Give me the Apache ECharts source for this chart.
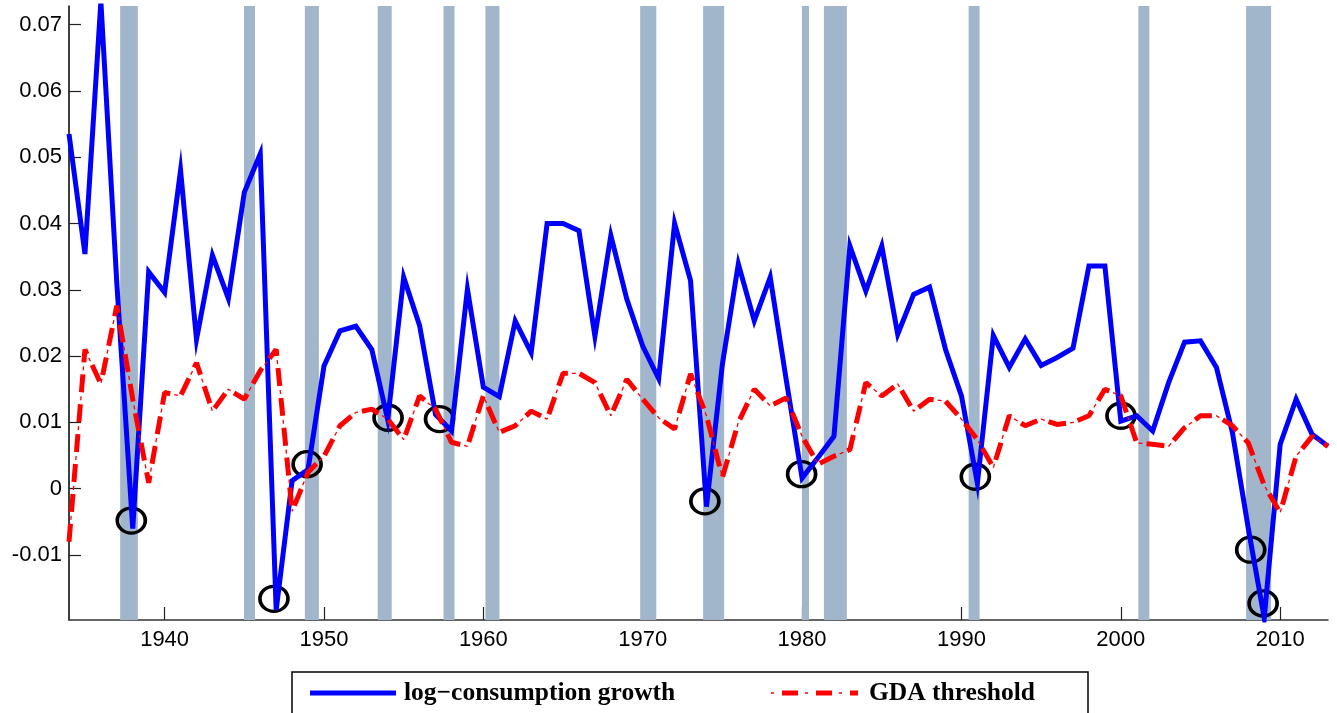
<!DOCTYPE html>
<html>
<head>
<meta charset="utf-8">
<script src="https://cdn.jsdelivr.net/npm/echarts@6/dist/echarts.min.js"></script>
<style>
  html, body { margin: 0; background: #fff; }
  #chart { width: 1337px; height: 713px; }
</style>
</head>
<body>
<div id="chart"></div>
<script>
// annual data, 1934 .. 2013
const firstYear = 1934;

const consumption = [
  0.0535, 0.0354, 0.0735, 0.0310, -0.0060, 0.0327, 0.0296, 0.0480, 0.0225, 0.0352,
  0.0287, 0.0447, 0.0505, -0.0183, 0.0012, 0.0029, 0.0185, 0.0238, 0.0245, 0.0210,
  0.0104, 0.0319, 0.0246, 0.0112, 0.0087, 0.0301, 0.0153, 0.0139, 0.0253, 0.0205,
  0.0400, 0.0400, 0.0389, 0.0230, 0.0382, 0.0286, 0.0215, 0.0166, 0.0400, 0.0314,
  -0.0027, 0.0188, 0.0339, 0.0253, 0.0319, 0.0165, 0.0016, 0.0047, 0.0079, 0.0366,
  0.0298, 0.0366, 0.0233, 0.0293, 0.0304, 0.0210, 0.0140, 0.0008, 0.0231, 0.0183,
  0.0226, 0.0186, 0.0198, 0.0212, 0.0336, 0.0336, 0.0102, 0.0110, 0.0087, 0.0160,
  0.0221, 0.0223, 0.0183, 0.0085, -0.0060, -0.0195, 0.0067, 0.0135, 0.0082, 0.0064
];

const threshold = [
  -0.0080, 0.0210, 0.0158, 0.0276, 0.0135, 0.0009, 0.0145, 0.0140, 0.0190, 0.0117,
  0.0150, 0.0135, 0.0178, 0.0210, -0.0034, 0.0025, 0.0049, 0.0095, 0.0115, 0.0120,
  0.0105, 0.0074, 0.0140, 0.0120, 0.0070, 0.0064, 0.0140, 0.0085, 0.0095, 0.0117,
  0.0105, 0.0174, 0.0174, 0.0160, 0.0110, 0.0165, 0.0135, 0.0107, 0.0090, 0.0173,
  0.0110, 0.0017, 0.0100, 0.0150, 0.0125, 0.0137, 0.0079, 0.0037, 0.0049, 0.0059,
  0.0160, 0.0140, 0.0158, 0.0117, 0.0135, 0.0132, 0.0105, 0.0074, 0.0032, 0.0110,
  0.0095, 0.0105, 0.0097, 0.0100, 0.0110, 0.0150, 0.0140, 0.0069, 0.0067, 0.0064,
  0.0092, 0.0110, 0.0110, 0.0095, 0.0069, 0.0005, -0.0036, 0.0049, 0.0079, 0.0064
];

// detected troughs (circled)
const troughs = [
  [1937.91, -0.0048], [1946.86, -0.0166], [1948.94, 0.0037], [1954.02, 0.0107],
  [1957.25, 0.0105], [1973.90, -0.0019], [1979.97, 0.0022], [1990.87, 0.0018],
  [2000.01, 0.0110], [2008.15, -0.0092], [2008.93, -0.0173]
];

// NBER recessions, start / end as fractional years
const recessions = [
  [1937.21, 1938.32], [1944.98, 1945.67], [1948.80, 1949.68], [1953.37, 1954.25],
  [1957.50, 1958.19], [1960.13, 1961.01], [1969.84, 1970.85], [1973.79, 1975.11],
  [1979.99, 1980.43], [1981.37, 1982.81], [1990.45, 1991.14], [2001.10, 2001.79],
  [2007.86, 2009.43]
];

const xTicks = [1940, 1950, 1960, 1970, 1980, 1990, 2000, 2010];
const yTicks = [-0.01, 0, 0.01, 0.02, 0.03, 0.04, 0.05, 0.06, 0.07];
const yTickLabels = ['-0.01', '0', '0.01', '0.02', '0.03', '0.04', '0.05', '0.06', '0.07'];

const toPoints = (arr) => arr.map((v, i) => [firstYear + i, v]);

const chart = echarts.init(document.getElementById('chart'));

const axisFont = '"Liberation Sans", Arial, sans-serif';
const legendFont = 'bold 25.5px "Liberation Serif", "Times New Roman", serif';

chart.setOption({
  animation: false,
  grid: { left: 69, right: 9, top: 6, bottom: 93 },
  xAxis: {
    type: 'value',
    min: 1934,
    max: 2013,
    axisLine: { show: true, onZero: false, lineStyle: { color: '#333', width: 1.5 } },
    axisTick: { show: true, inside: true, length: 13, customValues: xTicks, lineStyle: { color: '#222', width: 1.2 } },
    axisLabel: {
      customValues: xTicks,
      formatter: (v) => String(v),
      color: '#000',
      fontSize: 22,
      fontFamily: axisFont,
      margin: 9
    },
    splitLine: { show: false }
  },
  yAxis: {
    type: 'value',
    min: -0.0198,
    max: 0.0728,
    axisLine: { show: true, onZero: false, lineStyle: { color: '#000', width: 1.5 } },
    axisTick: { show: true, inside: true, length: 12, customValues: yTicks, lineStyle: { color: '#222', width: 1.2 } },
    axisLabel: {
      customValues: yTicks,
      formatter: (v) => {
        const i = yTicks.findIndex((t) => Math.abs(t - v) < 1e-9);
        return i >= 0 ? yTickLabels[i] : '';
      },
      color: '#000',
      fontSize: 22,
      fontFamily: axisFont,
      margin: 7
    },
    splitLine: { show: false }
  },
  series: [
    {
      // recession shading
      type: 'line',
      data: [],
      z: 1,
      markArea: {
        silent: true,
        itemStyle: { color: '#a1b5cb' },
        data: recessions.map(([a, b]) => [{ xAxis: a }, { xAxis: b }])
      }
    },
    {
      type: 'scatter',
      data: troughs,
      z: 2,
      symbol: 'circle',
      symbolSize: [28, 25],
      itemStyle: { color: 'rgba(0,0,0,0)', borderColor: '#000', borderWidth: 3.5, opacity: 1 }
    },
    {
      name: 'log−consumption growth',
      type: 'line',
      data: toPoints(consumption),
      z: 3,
      symbol: 'none',
      lineStyle: { color: '#0000ff', width: 5, join: 'miter' }
    },
    {
      name: 'GDA threshold',
      type: 'line',
      data: toPoints(threshold),
      z: 4,
      symbol: 'none',
      lineStyle: { color: '#ff0000', width: 5, type: [18, 12], cap: 'butt' }
    },
    {
      // thin dots of the dash-dot pattern
      type: 'line',
      data: toPoints(threshold),
      z: 4,
      symbol: 'none',
      lineStyle: { color: '#ff0000', width: 1.3, type: [4, 26], dashOffset: 8, cap: 'butt' }
    }
  ],
  graphic: [
    {
      type: 'rect',
      shape: { x: 292, y: 672, width: 796, height: 60 },
      style: { fill: '#fff', stroke: '#000', lineWidth: 1.5 },
      z: 10
    },
    {
      type: 'line',
      shape: { x1: 310, y1: 693, x2: 396, y2: 693 },
      style: { stroke: '#0000ff', lineWidth: 5 },
      z: 11
    },
    {
      type: 'text',
      x: 404,
      y: 693,
      style: { text: 'log−consumption growth', font: legendFont, fill: '#000', verticalAlign: 'middle' },
      z: 11
    },
    {
      type: 'line',
      shape: { x1: 782, y1: 693, x2: 858, y2: 693 },
      style: { stroke: '#ff0000', lineWidth: 5, lineDash: [16, 18] },
      z: 11
    },
    {
      type: 'line',
      shape: { x1: 771, y1: 693, x2: 858, y2: 693 },
      style: { stroke: '#ff0000', lineWidth: 1.3, lineDash: [3, 31] },
      z: 11
    },
    {
      type: 'text',
      x: 869,
      y: 693,
      style: { text: 'GDA threshold', font: legendFont, fill: '#000', verticalAlign: 'middle' },
      z: 11
    }
  ]
});
</script>
</body>
</html>
